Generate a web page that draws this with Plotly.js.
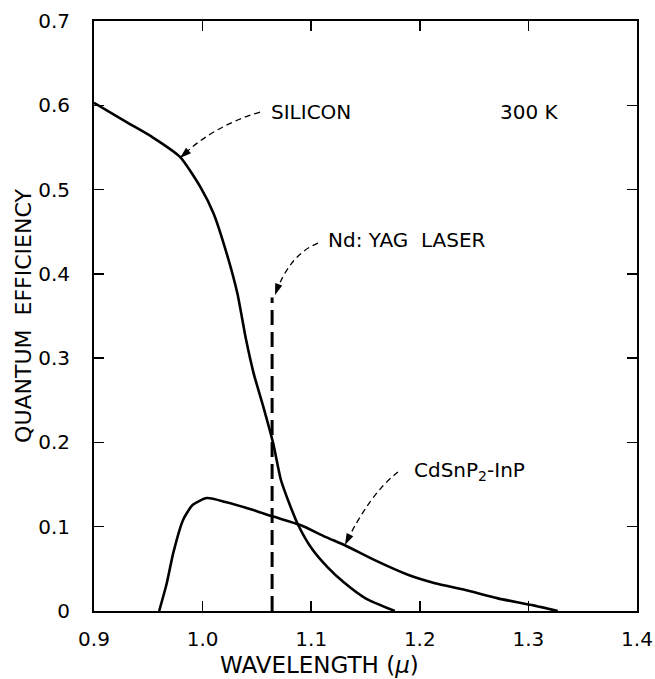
<!DOCTYPE html>
<html>
<head>
<meta charset="utf-8">
<script src="https://cdn.plot.ly/plotly-3.0.1.min.js"></script>
<style>html,body{margin:0;padding:0;background:#fff;}#chart{width:655px;height:679px;}</style>
</head>
<body>
<div id="chart"></div>
<script>
// Silicon quantum efficiency
const siliconWavelength = [0.900, 0.930, 0.954, 0.979, 0.998, 1.010, 1.022, 1.032, 1.040, 1.047, 1.056, 1.065, 1.072, 1.080, 1.088, 1.100, 1.115, 1.130, 1.150, 1.177];
const siliconQE        = [0.603, 0.580, 0.562, 0.539, 0.503, 0.472, 0.425, 0.377, 0.322, 0.282, 0.242, 0.199, 0.156, 0.127, 0.102, 0.075, 0.052, 0.034, 0.015, 0.000];
// CdSnP2-InP quantum efficiency
const cdsnpWavelength = [0.960, 0.967, 0.973, 0.982, 0.991, 1.004, 1.022, 1.046, 1.065, 1.090, 1.113, 1.131, 1.159, 1.189, 1.214, 1.242, 1.272, 1.303, 1.327];
const cdsnpQE         = [0.000, 0.033, 0.069, 0.108, 0.126, 0.134, 0.129, 0.120, 0.112, 0.102, 0.088, 0.078, 0.060, 0.043, 0.033, 0.025, 0.015, 0.007, 0.000];
// Nd:YAG laser line (1.064 micron)
const laserWavelength = [1.064, 1.064];
const laserQE         = [0.000, 0.372];
// Axis ticks
const xTickVals  = [0.9, 1.0, 1.1, 1.2, 1.3, 1.4];
const xTickText  = ["0.9", "1.0", "1.1", "1.2", "1.3", "1.4"];
const yTickVals  = [0, 0.1, 0.2, 0.3, 0.4, 0.5, 0.6, 0.7];
const yTickText  = ["0", "0.1", "0.2", "0.3", "0.4", "0.5", "0.6", "0.7"];
// Labels
const labelTexts = ["SILICON", "300 K", "Nd: YAG  LASER", "CdSnP<sub>2</sub>-InP"];
const labelX     = [1.100, 1.301, 1.188, 1.246];
const labelY     = [0.592, 0.592, 0.440, 0.166];
// Curved pointer arrows: start (near label), control point, tip, arrowhead angle
const pointerStartX = [1.0529, 1.1063, 1.1799];
const pointerStartY = [0.592, 0.4365, 0.1649];
const pointerCtrlX  = [1.0087, 1.0797, 1.1537];
const pointerCtrlY  = [0.575, 0.4229, 0.1388];
const pointerTipX   = [0.9792, 1.0667, 1.1311];
const pointerTipY   = [0.5374, 0.3749, 0.0783];
const pointerAngle  = [228, 199, 206];

const FONT = "DejaVu Sans, Arial, sans-serif";

const traces = [
  {x: siliconWavelength, y: siliconQE, mode: "lines", line: {color: "#000", width: 2.6, shape: "spline", smoothing: 0.6}, hoverinfo: "skip", name: "Silicon"},
  {x: cdsnpWavelength, y: cdsnpQE, mode: "lines", line: {color: "#000", width: 2.6, shape: "spline", smoothing: 0.6}, hoverinfo: "skip", name: "CdSnP2-InP"},
  {x: laserWavelength, y: laserQE, mode: "lines", line: {color: "#000", width: 3, dash: "15px,7px"}, hoverinfo: "skip", name: "Nd:YAG"},
  {x: pointerTipX, y: pointerTipY, mode: "markers", hoverinfo: "skip", name: "pointers",
   marker: {symbol: "arrow", size: 12, angle: pointerAngle, color: "#000", line: {width: 0}}}
];

const shapes = [];
for (let i = 0; i < pointerStartX.length; i++) {
  shapes.push({
    type: "path", xref: "x", yref: "y",
    path: `M ${pointerStartX[i]},${pointerStartY[i]} Q ${pointerCtrlX[i]},${pointerCtrlY[i]} ${pointerTipX[i]},${pointerTipY[i]}`,
    line: {color: "#000", width: 1.3, dash: "6px,4px"}
  });
}
const annotations = [];
for (let i = 0; i < labelTexts.length; i++) {
  annotations.push({
    x: labelX[i], y: labelY[i], xref: "x", yref: "y", text: labelTexts[i],
    showarrow: false, xanchor: "center", yanchor: "middle",
    font: {family: FONT, size: 20, color: "#000"}
  });
}
annotations.push({
  x: 0.416, y: -0.092, xref: "paper", yref: "paper", text: "WAVELENGTH (<i>μ</i>)",
  showarrow: false, xanchor: "center", yanchor: "middle",
  font: {family: FONT, size: 23, color: "#000"}
});

const layout = {
  width: 655, height: 679,
  margin: {l: 94, r: 18, t: 21, b: 68},
  paper_bgcolor: "#fff", plot_bgcolor: "#fff",
  showlegend: false,
  font: {family: FONT, color: "#000"},
  xaxis: {
    range: [0.9, 1.4], tickvals: xTickVals, ticktext: xTickText,
    ticks: "inside", ticklen: 10, tickwidth: 1.5, tickcolor: "#000",
    showline: true, linewidth: 2, linecolor: "#000", mirror: "ticks",
    showgrid: false, zeroline: false,
    tickfont: {family: FONT, size: 20, color: "#000"}, ticklabelstandoff: 9
  },
  yaxis: {
    range: [0, 0.7], tickvals: yTickVals, ticktext: yTickText,
    ticks: "inside", ticklen: 10, tickwidth: 1.5, tickcolor: "#000",
    showline: true, linewidth: 2, linecolor: "#000", mirror: "ticks",
    showgrid: false, zeroline: false,
    tickfont: {family: FONT, size: 20, color: "#000"}, ticklabelstandoff: 18,
    title: {text: "QUANTUM  EFFICIENCY", font: {family: FONT, size: 22, color: "#000"}, standoff: 0}
  },
  shapes: shapes,
  annotations: annotations
};

Plotly.newPlot("chart", traces, layout, {staticPlot: true, displayModeBar: false});
</script>
</body>
</html>
